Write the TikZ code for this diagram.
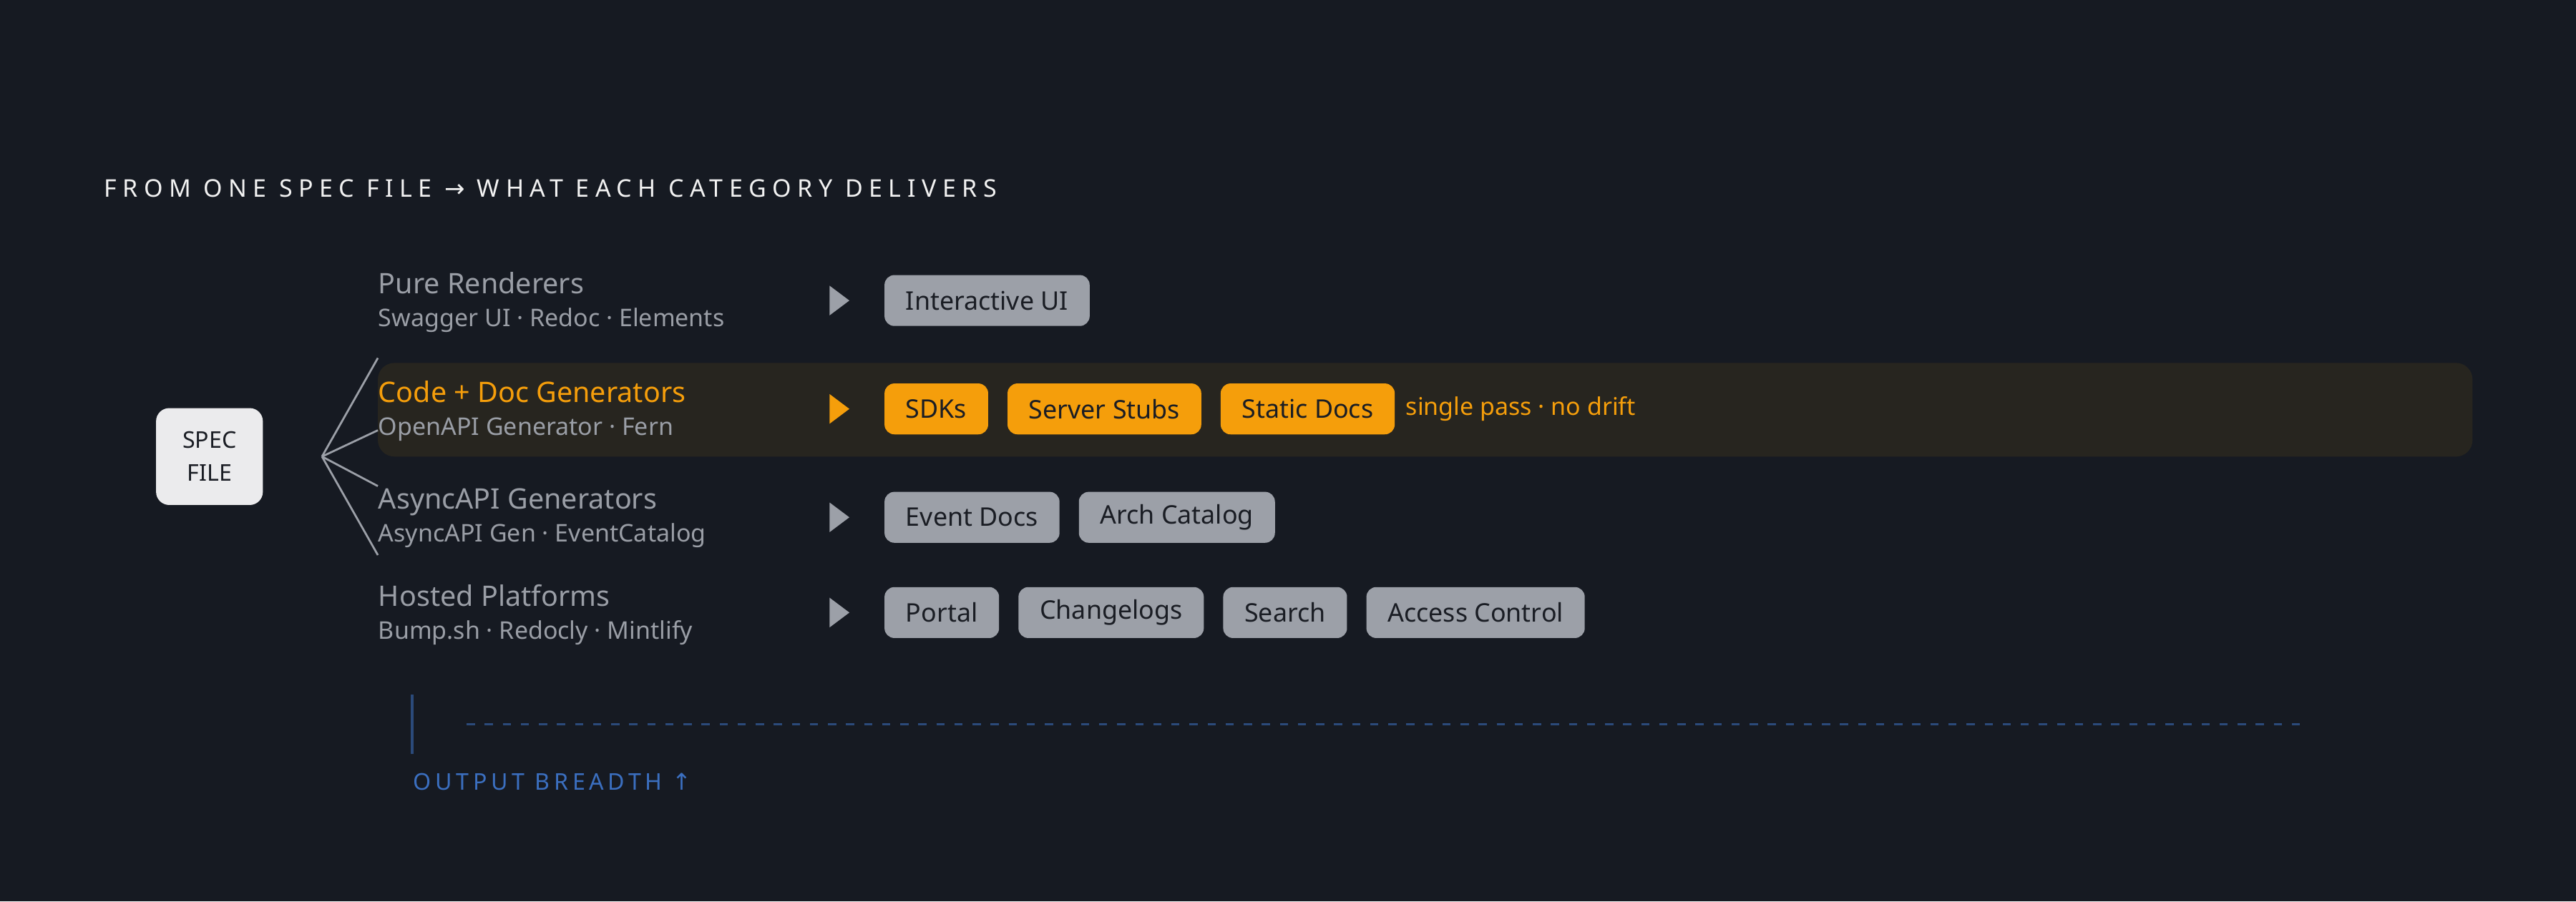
\documentclass[tikz,border=0pt]{standalone}
\usepackage{fontspec}
\setmainfont{Noto Sans}
\newfontfamily\symfont{DejaVu Sans}
\usetikzlibrary{positioning}
\definecolor{bgcol}{HTML}{161A22}
\definecolor{chipgray}{HTML}{9CA0A8}
\definecolor{chiptext}{HTML}{1A1D24}
\definecolor{accent}{HTML}{F59E0B}
\definecolor{bandcol}{HTML}{27251F}
\definecolor{subtext}{HTML}{9A9EA6}
\definecolor{axisblue}{HTML}{2B4A7A}
\definecolor{labelblue}{HTML}{3B6FC0}
\tikzset{
  chip/.style={fill=chipgray, text=chiptext, rounded corners=3pt, inner xsep=6.5pt,
    minimum height=15.5pt, font=\fontsize{7.8}{9}\selectfont\bfseries, anchor=west},
  hotchip/.style={chip, fill=accent},
  cattitle/.style={anchor=base west, text=subtext, inner sep=0pt, font=\fontsize{8.6}{10}\selectfont},
  catsub/.style={anchor=base west, text=subtext, inner sep=0pt, font=\fontsize{7.4}{9}\selectfont},
  marker/.style={fill=chipgray},
  fan/.style={chipgray, line width=0.6pt}
}
\begin{document}
\begin{tikzpicture}[x=0.5pt, y=-0.5pt, node distance=5.5pt]

  \fill[bgcol] (0,0) rectangle (1568,549);
  \useasboundingbox (0,0) rectangle (1568,549);

  % heading
  \node[anchor=base west, inner sep=0pt, text=white!90!gray,
    font=\fontsize{7.4}{9}\selectfont\addfontfeature{LetterSpace=25}] (heading) at (63,120)
    {FROM ONE SPEC FILE {\symfont\addfontfeature{LetterSpace=25}→} WHAT EACH CATEGORY DELIVERS};

  % highlight band
  \fill[bandcol, rounded corners=5pt] (230,221) rectangle (1505,278);

  % spec file
  \node[fill=blue!6!gray!15!white, rounded corners=4pt, minimum width=32.5pt, minimum height=29.5pt,
    text=chiptext, align=center, font=\fontsize{7}{10}\selectfont\bfseries] (spec) at (127.5,278) {SPEC\\FILE};
  \coordinate (hub) at (196,278);

  % categories
  \node[cattitle] (pureT) at (230,179) {Pure Renderers};
  \node[catsub] (pureS) at (230,199) {Swagger UI · Redoc · Elements};
  \node[cattitle, text=accent] (codeT) at (230,245) {Code + Doc Generators};
  \node[catsub] (codeS) at (230,265) {OpenAPI Generator · Fern};
  \node[cattitle] (asyncT) at (230,310) {AsyncAPI Generators};
  \node[catsub] (asyncS) at (230,330) {AsyncAPI Gen · EventCatalog};
  \node[cattitle] (hostT) at (230,369) {Hosted Platforms};
  \node[catsub] (hostS) at (230,389) {Bump.sh · Redocly · Mintlify};

  \coordinate (f1) at (230,218);
  \coordinate (f2) at (230,262);
  \coordinate (f3) at (230,296);
  \coordinate (f4) at (230,338);
  \foreach \f in {f1,f2,f3,f4}
    \draw[fan] (hub) -- (\f);

  % markers
  \foreach \y/\c in {183/chipgray, 249/accent, 315/chipgray, 373/chipgray}
    \fill[\c] (505,\y-9) -- (517,\y) -- (505,\y+9) -- cycle;

  % deliverables
  \node[chip] (ui) at (538,183) {Interactive UI};

  \node[hotchip] (sdk) at (538,249) {SDKs};
  \node[hotchip, right=of sdk] (stubs) {Server Stubs};
  \node[hotchip, right=of stubs] (static) {Static Docs};
  \node[right=3pt of static, text=accent, inner sep=0pt,
    font=\fontsize{7.4}{9}\selectfont\bfseries] (note) {single pass · no drift};

  \node[chip] (events) at (538,315) {Event Docs};
  \node[chip, right=of events] (arch) {Arch Catalog};

  \node[chip] (portal) at (538,373) {Portal};
  \node[chip, right=of portal] (changes) {Changelogs};
  \node[chip, right=of changes] (search) {Search};
  \node[chip, right=of search] (access) {Access Control};

  % breadth axis
  \coordinate (axT) at (251,423);
  \coordinate (axB) at (251,459);
  \draw[axisblue, line width=0.8pt] (axT) -- (axB);
  \coordinate (dashL) at (284,441);
  \coordinate (dashR) at (1405,441);
  \draw[axisblue, line width=0.5pt, dash pattern=on 2.5pt off 3pt] (dashL) -- (dashR);
  \node[anchor=base west, inner sep=0pt, text=labelblue,
    font=\fontsize{7}{9}\selectfont\addfontfeature{LetterSpace=18}] (breadth) at (251,481)
    {OUTPUT BREADTH {\symfont ↑}};

\end{tikzpicture}
\end{document}
